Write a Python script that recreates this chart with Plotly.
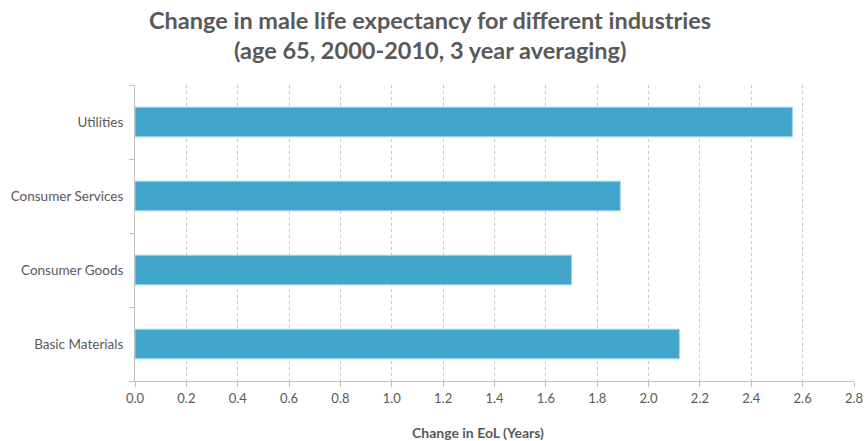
import plotly.graph_objects as go

industries = ["Basic Materials", "Consumer Goods", "Consumer Services", "Utilities"]
change_years = [2.12, 1.70, 1.89, 2.56]
x_ticks = [round(0.2 * i, 1) for i in range(15)]
title_lines = [
    "Change in male life expectancy for different industries",
    "(age 65, 2000-2010, 3 year averaging)",
]
x_title = "Change in EoL (Years)"

text_grey = "#595959"
axis_grey = "#bfbfbf"
bar_blue = "#41a5cc"
font_family = "Lato, 'Open Sans', sans-serif"

fig = go.Figure(
    go.Bar(
        x=change_years,
        y=industries,
        orientation="h",
        width=0.4,
        marker=dict(color=bar_blue, line=dict(color="#9fd6ec", width=1)),
    )
)

fig.update_layout(
    width=865,
    height=441,
    margin=dict(l=135, r=11, t=85, b=60, autoexpand=False),
    paper_bgcolor="white",
    plot_bgcolor="white",
    showlegend=False,
    font=dict(family=font_family, color=text_grey, size=12),
)

# Two-line chart title placed in pixel-stable paper coordinates
for i, line in enumerate(title_lines):
    fig.add_annotation(
        text=f"<b>{line}</b>",
        xref="paper",
        yref="paper",
        x=0.41,
        y=1 + (65 - 30 * i) / 296,
        xanchor="center",
        yanchor="middle",
        showarrow=False,
        font=dict(family=font_family, size=23.5, color=text_grey),
    )

# Horizontal axis title
fig.add_annotation(
    text=f"<b>{x_title}</b>",
    xref="paper",
    yref="paper",
    x=(478 - 135) / 719,
    y=-51 / 296,
    xanchor="center",
    yanchor="middle",
    showarrow=False,
    font=dict(family=font_family, size=14, color=text_grey),
)

fig.update_xaxes(
    range=[0, 2.8],
    automargin=False,
    tickvals=x_ticks,
    ticktext=[f"{v:.1f}" for v in x_ticks],
    showgrid=True,
    gridcolor="#c8c8c8",
    griddash="3px,3px",
    gridwidth=1,
    showline=True,
    linecolor=axis_grey,
    linewidth=1,
    ticks="outside",
    ticklen=5,
    tickcolor=axis_grey,
    tickfont=dict(size=13, color=text_grey),
    zeroline=False,
)

fig.update_yaxes(
    categoryorder="array",
    categoryarray=industries,
    automargin=False,
    showgrid=False,
    showline=True,
    linecolor=axis_grey,
    linewidth=1,
    ticks="outside",
    tickson="boundaries",
    ticklen=5,
    tickcolor=axis_grey,
    tickfont=dict(size=13.5, color=text_grey),
    ticklabelstandoff=8,
)

fig.write_html("out.html")
